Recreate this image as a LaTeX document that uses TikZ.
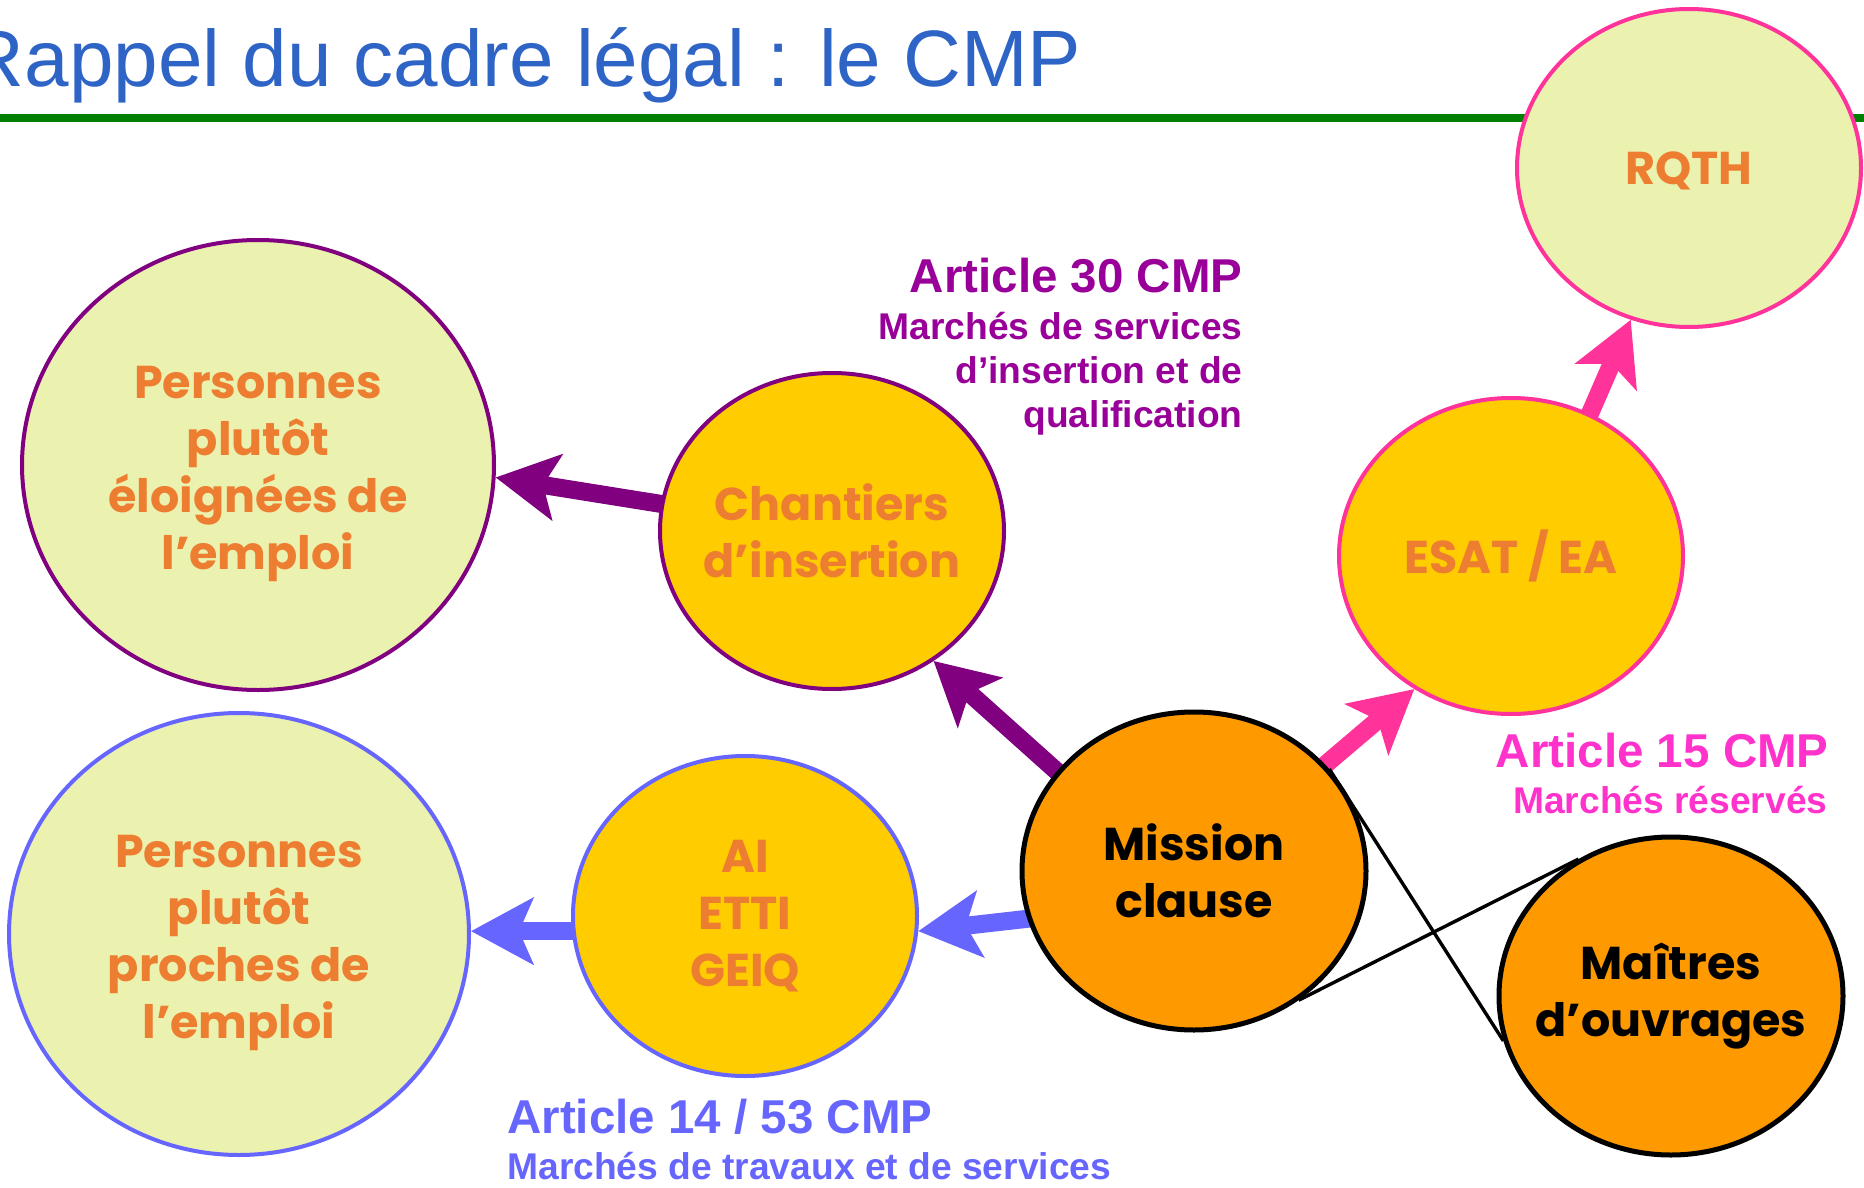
\documentclass[tikz,border=0pt]{standalone}
\usepackage{fontspec}
\setmainfont{Liberation Sans}
\newfontfamily\gothic{Poppins}
\usetikzlibrary{arrows.meta,backgrounds,shapes.geometric}
\definecolor{lightfill}{HTML}{EBF1AE}
\definecolor{yellowc}{HTML}{FFCC00}
\definecolor{orangec}{HTML}{FF9900}
\definecolor{txtorange}{HTML}{ED7D31}
\definecolor{purplec}{HTML}{800080}
\definecolor{purplelab}{HTML}{990099}
\definecolor{pinkc}{HTML}{FF3399}
\definecolor{pinklab}{HTML}{FF33CC}
\definecolor{bluec}{HTML}{6666FF}
\definecolor{titleblue}{HTML}{2E64C6}
\definecolor{greenline}{HTML}{008000}
\newcommand\topgap{\rule{0pt}{25pt}}
\begin{document}
\begin{tikzpicture}[x=0.5pt,y=-0.5pt,
  bub/.style={ellipse, draw, line width=2pt, inner sep=-20pt, align=center,
    font=\gothic\bfseries\fontsize{23pt}{28.5pt}\selectfont, text=txtorange},
  arr/.style={line width=9pt, shorten <=-8pt, -{Stealth[length=31pt,width=33pt,inset=7pt]}},
  thinline/.style={line width=1.7pt, draw=black},
  lab/.style={inner sep=0pt, font=\bfseries\fontsize{23.75pt}{28pt}\selectfont},
  sub/.style={inner sep=0pt, font=\bfseries\fontsize{18.6pt}{22pt}\selectfont}]
\useasboundingbox (0,0) rectangle (1864,1188);
% title and rule
\coordinate (gl) at (0,118);
\coordinate (gr) at (1864,118);
\draw[greenline, line width=4pt] (gl) -- (gr);
\node[inner sep=0pt, anchor=base east, text=titleblue,
  font=\fontsize{40pt}{48pt}\selectfont] (title) at (1082,87) {Rappel du cadre légal : le CMP};
% bubbles
\node[bub, fill=lightfill, draw=pinkc, minimum width=172pt, minimum height=159pt] (rqth) at (1689,168) {\rule{0pt}{19pt}RQTH};
\node[bub, fill=lightfill, draw=purplec, minimum width=236pt, minimum height=225pt] (far) at (258,465) {\topgap Personnes\\plutôt\\éloignées de\\l’emploi};
\node[bub, fill=yellowc, draw=purplec, minimum width=172pt, minimum height=158pt] (chant) at (832,531) {Chantiers\\d’insertion};
\node[bub, fill=yellowc, draw=pinkc, minimum width=172pt, minimum height=158pt] (esat) at (1511,556) {ESAT / EA};
\node[bub, fill=orangec, draw=black, text=black, line width=2.5pt, minimum width=172pt, minimum height=159pt] (mission) at (1194,871) {Mission\\clause};
\node[bub, fill=orangec, draw=black, text=black, line width=2.5pt, minimum width=172pt, minimum height=159pt] (maitres) at (1671,996) {Maîtres\\d’ouvrages};
\node[bub, fill=yellowc, draw=bluec, minimum width=172pt, minimum height=160pt] (ai) at (745,916) {AI\\ETTI\\GEIQ};
\node[bub, fill=lightfill, draw=bluec, minimum width=230pt, minimum height=221pt] (near) at (239,934) {\topgap Personnes\\plutôt\\proches de\\l’emploi};
% background and arrows
\begin{scope}[on background layer]
\fill[white] (0,0) rectangle (1864,1188);
\draw[arr, draw=purplec] (chant.171) -- (far.-3);
\draw[arr, draw=purplec] (mission.144) -- (chant.-52);
\draw[arr, draw=pinkc] (mission.39) -- (esat.-126);
\draw[arr, draw=pinkc] (esat.61) -- (rqth.-111);
\draw[arr, draw=bluec] (mission.196) -- (ai.-5);
\draw[arr, draw=bluec] (ai.185) -- (ai.185 -| near.east);
\end{scope}
% callout lines
\draw[thinline] (mission.37) -- (maitres.195);
\draw[thinline] (mission.-51) -- (maitres.124);
% labels
\node[lab, text=purplelab, anchor=base east] (a30) at (1243,292) {Article 30 CMP};
\node[sub, text=purplelab, anchor=base east] (a30a) at (1243,339) {Marchés de services};
\node[sub, text=purplelab, anchor=base east] (a30b) at (1243,383) {d’insertion et de};
\node[sub, text=purplelab, anchor=base east] (a30c) at (1243,427) {qualification};
\node[lab, text=pinklab, anchor=base east] (a15) at (1829,767) {Article 15 CMP};
\node[sub, text=pinklab, anchor=base east] (a15a) at (1828,813) {Marchés réservés};
\node[lab, text=bluec, anchor=base west] (a14) at (507,1133) {Article 14 / 53 CMP};
\node[sub, text=bluec, anchor=base west] (a14a) at (507,1179) {Marchés de travaux et de services};
\end{tikzpicture}
\end{document}
